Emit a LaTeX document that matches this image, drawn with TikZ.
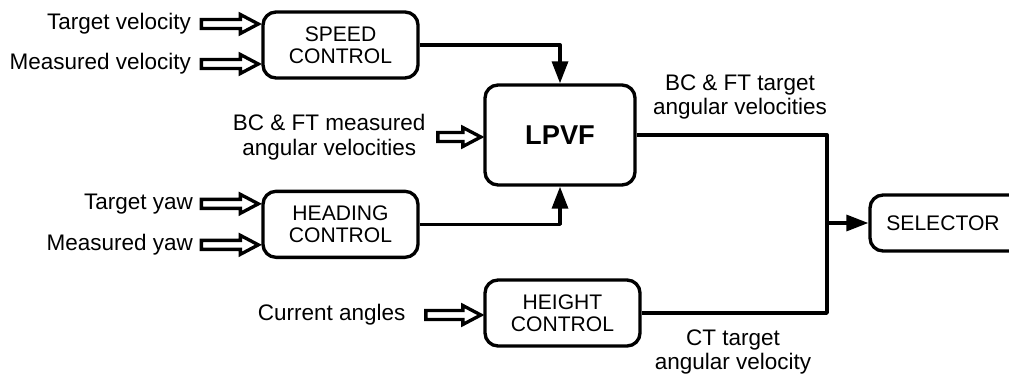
\documentclass[tikz,border=0pt]{standalone}
\usepackage{fontspec}
\setmainfont{Liberation Sans}
\usetikzlibrary{calc}
\usetikzlibrary{positioning}
\usetikzlibrary{arrows.meta}

\tikzset{
    block/.style={rectangle, rounded corners=0.26cm, draw=black, line width=1.9pt, align=center, minimum width=3.1cm, minimum height=1.32cm, inner sep=2pt, font=\fontsize{12}{12.6}\selectfont},
    lbl/.style={inner sep=0pt, align=center, font=\fontsize{12.8}{14.2}\selectfont},
    wire/.style={line width=1.9pt, line join=round},
    hollow/.style={line width=1.9pt, line join=miter, fill=white},
    tip/.style={-{Triangle[length=0.44cm, width=0.32cm]}}
}

\newcommand{\hollowarrow}[2]{%
    \draw [hollow] ($(#1)+(0,0.09)$) -- ($(#2)+(-0.36,0.09)$) -- ($(#2)+(-0.36,0.19)$) -- (#2)
        -- ($(#2)+(-0.36,-0.19)$) -- ($(#2)+(-0.36,-0.09)$) -- ($(#1)+(0,-0.09)$) -- cycle;}

\begin{document}
\begin{tikzpicture}
    \useasboundingbox (0,0) rectangle (20.18,7.56);
    \clip (0,0) rectangle (20.18,7.56);

    \node [block] (speed) at (6.81,6.66) {SPEED\\CONTROL};
    \node [block, below=2.2cm of speed] (heading) {HEADING\\CONTROL};
    \node [block, minimum width=3cm, minimum height=2cm, font=\fontsize{15.5}{16}\selectfont\bfseries] (lpvf) at (11.2,4.86) {LPVF};
    \node [block] (height) at (11.25,1.30) {HEIGHT\\CONTROL};
    \node [block, minimum width=3.3cm, minimum height=1.12cm] (selector) at (19.05,3.10) {\hspace*{-0.38cm}SELECTOR};

    \coordinate (tvend) at ($(speed.west)+(-0.06,0.42)$);
    \coordinate (tvstart) at ($(tvend)+(-1.14,0)$);
    \coordinate (mvend) at ($(speed.west)+(-0.06,-0.38)$);
    \coordinate (mvstart) at ($(mvend)+(-1.14,0)$);
    \coordinate (tyend) at ($(heading.west)+(-0.06,0.41)$);
    \coordinate (tystart) at ($(tyend)+(-1.14,0)$);
    \coordinate (myend) at ($(heading.west)+(-0.06,-0.41)$);
    \coordinate (mystart) at ($(myend)+(-1.14,0)$);
    \coordinate (bcend) at ($(lpvf.west)+(-0.05,-0.04)$);
    \coordinate (bcstart) at ($(bcend)+(-0.86,0)$);
    \coordinate (caend) at ($(height.west)+(-0.05,-0.04)$);
    \coordinate (castart) at ($(caend)+(-1.1,0)$);

    \node [lbl, left=0.2cm of tvstart] (tvlabel) {Target velocity};
    \node [lbl, left=0.2cm of mvstart] (mvlabel) {Measured velocity};
    \node [lbl, left=0.16cm of tystart] (tylabel) {Target yaw};
    \node [lbl, left=0.16cm of mystart] (mylabel) {Measured yaw};
    \node [lbl, left=0.24cm of bcstart] (bclabel) {BC \& FT measured\\angular velocities};
    \node [lbl, left=0.4cm of castart] (calabel) {Current angles};
    \node [lbl] (toplabel) at (14.8,5.62) {BC \& FT target\\angular velocities};
    \node [lbl] (ctlabel) at (14.66,0.52) {CT target\\angular velocity};

    \hollowarrow{tvstart}{tvend}
    \hollowarrow{mvstart}{mvend}
    \hollowarrow{tystart}{tyend}
    \hollowarrow{mystart}{myend}
    \hollowarrow{bcstart}{bcend}
    \hollowarrow{castart}{caend}

    \coordinate (bus) at (16.54,3.10);
    \draw [wire, tip] (speed.east) -| (lpvf.north);
    \draw [wire, tip] (heading.east) -| (lpvf.south);
    \draw [wire] (lpvf.east) -| (bus) |- (height.east);
    \draw [wire, tip] (bus) -- (selector.west);
\end{tikzpicture}
\end{document}
